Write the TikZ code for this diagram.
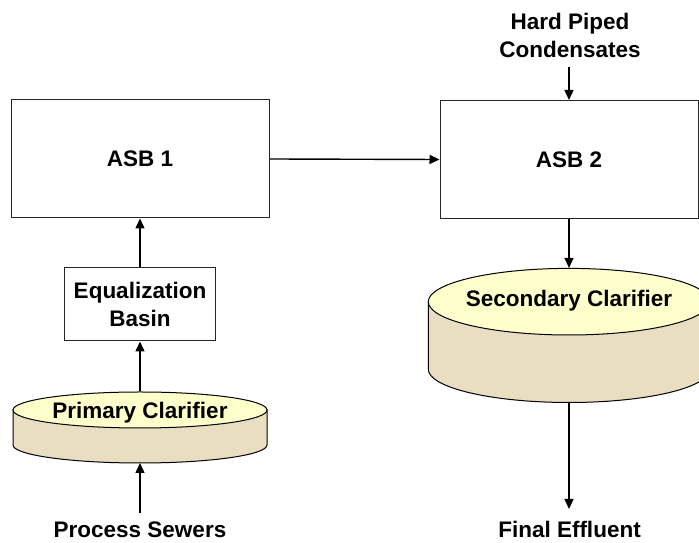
\documentclass[tikz,border=0pt]{standalone}
\usepackage{fontspec}
\setmainfont{Liberation Sans}
\usetikzlibrary{arrows.meta,shapes.geometric}
\definecolor{tanktop}{HTML}{FFFFCC}
\definecolor{tankside}{HTML}{E9DEC2}

\begin{document}
\begin{tikzpicture}[x=1pt,y=1pt,
  lbl/.style={font=\fontsize{22.5}{28}\selectfont\bfseries, inner sep=0pt, align=center},
  unitbox/.style={draw=black!85, line width=1pt, fill=white, inner sep=0pt,
                  font=\fontsize{22.5}{28}\selectfont\bfseries, align=center},
  flow/.style={draw=black, line width=1.4pt, -{Triangle[length=10pt,width=9pt]}},
  rim/.style={ellipse, draw=black, line width=1pt, fill=tanktop, inner sep=0pt},
  body/.style={draw=black, line width=1pt, fill=tankside}]
\useasboundingbox (0,0) rectangle (699,543);

% aeration stabilization basins
\node[unitbox, minimum width=258pt, minimum height=118pt] (asb1) at (140,384) {ASB 1};
\node[unitbox, minimum width=258pt, minimum height=118pt] (asb2) at (569,383.5) {ASB 2};

% equalization basin
\node[unitbox, minimum width=151pt, minimum height=73pt] (eq) at (140,238.5) {Equalization\\Basin};

% primary clarifier (shallow tank)
\path[body] (13,133) -- (13,98) arc[start angle=180, end angle=360, x radius=127, y radius=18] -- (267,133) -- cycle;
\node[rim, minimum width=254pt, minimum height=36pt] (pc) at (140,133) {};
\node[lbl, anchor=base] (pclabel) at (140,124) {Primary Clarifier};
\coordinate (pcb) at (140,80);

% secondary clarifier (deep tank)
\path[body] (428.3,241.3) -- (428.3,173.8) arc[start angle=180, end angle=360, x radius=140.7, y radius=33.3] -- (709.7,241.3) -- cycle;
\node[rim, minimum width=281.4pt, minimum height=66.6pt] (sc) at (569,241.3) {};
\node[lbl, anchor=base] (sclabel) at (569,236.3) {Secondary Clarifier};
\coordinate (scb) at (569,140.5);

% inflows and outflow
\node[lbl, anchor=base] (sewers) at (140,5) {Process Sewers};
\coordinate (sewersin) at (140,30);
\node[lbl, anchor=base] (effluent) at (569.5,5) {Final Effluent};
\coordinate (effout) at (569,34);
\node[lbl, anchor=base] (hpc) at (570,485.7) {Hard Piped\\Condensates};
\coordinate (hpcin) at (569,476);

% flow connections
\draw[flow] (sewersin) -- (pcb);
\draw[flow] (pc.north) -- (eq.south);
\draw[flow] (eq.north) -- (asb1.south);
\draw[flow] (asb1.east) -- (asb2.west);
\draw[flow] (hpcin) -- (asb2.north);
\draw[flow] (asb2.south) -- (sc.north);
\draw[flow] (scb) -- (effout);
\end{tikzpicture}
\end{document}
